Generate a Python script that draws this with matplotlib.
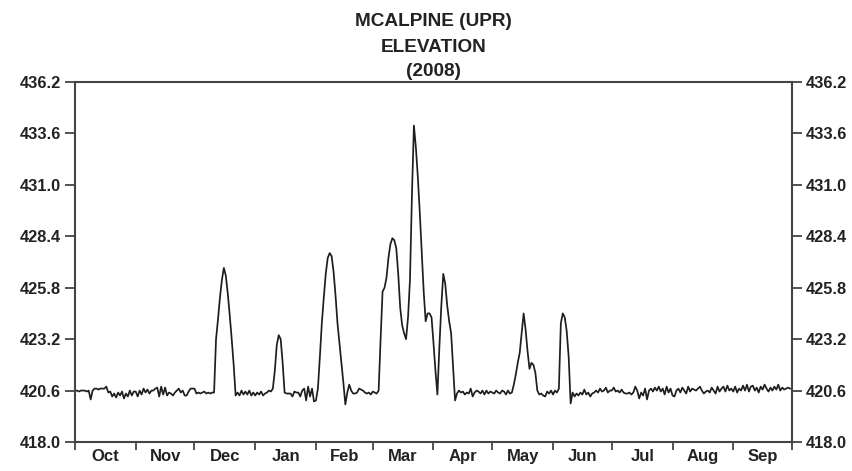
import numpy as np
import matplotlib
matplotlib.use("Agg")
import matplotlib.pyplot as plt

plt.rcParams["font.family"] = ["Liberation Sans", "DejaVu Sans"]
plt.rcParams["font.weight"] = "bold"

# daily elevation, water year Oct 2007 - Sep 2008
months = ["Oct", "Nov", "Dec", "Jan", "Feb", "Mar", "Apr", "May", "Jun", "Jul", "Aug", "Sep"]

oct_ = [420.6, 420.6, 420.55, 420.6, 420.6, 420.6, 420.55, 420.6, 420.15, 420.6, 420.7, 420.7,
        420.65, 420.7, 420.7, 420.7, 420.8, 420.5, 420.55, 420.3, 420.45, 420.25, 420.5, 420.35,
        420.55, 420.2, 420.45, 420.3, 420.6, 420.35, 420.55]
nov = [420.55, 420.3, 420.6, 420.4, 420.7, 420.5, 420.65, 420.45, 420.6, 420.6, 420.7, 420.75,
       420.3, 420.8, 420.4, 420.75, 420.35, 420.5, 420.45, 420.35, 420.5, 420.6, 420.7, 420.5,
       420.6, 420.35, 420.35, 420.55, 420.7, 420.7]
dec = [420.7, 420.45, 420.5, 420.45, 420.5, 420.55, 420.45, 420.5, 420.45, 420.5,
       420.5, 423.2, 424.2, 425.3, 426.2, 426.8, 426.4, 425.5, 424.4, 423.2, 421.9, 420.35,
       420.5, 420.35, 420.6, 420.4, 420.55, 420.4, 420.6, 420.35, 420.5]
jan = [420.35, 420.5, 420.4, 420.55, 420.35, 420.45, 420.5, 420.6, 420.55,
       420.7, 421.6, 422.9, 423.4, 423.2, 422.0, 420.5,
       420.45, 420.45, 420.45, 420.3, 420.55, 420.5, 420.5, 420.3, 420.6, 420.7, 420.1,
       420.8, 420.3, 420.7, 420.05]
feb = [420.1, 420.7, 422.3, 424.0, 425.3, 426.5, 427.3, 427.55, 427.4, 426.6, 425.4, 424.0,
       423.0, 422.0, 421.0, 419.9, 420.5, 420.9, 420.6, 420.45, 420.45, 420.5, 420.7, 420.65,
       420.6, 420.5, 420.45, 420.5, 420.4]
mar = [420.55, 420.5, 420.45, 420.6, 423.2, 425.6, 425.8, 426.3, 427.3, 428.0, 428.3, 428.2,
       427.8, 426.5, 424.8, 423.9, 423.5, 423.2, 424.3, 426.2, 430.5, 434.0, 432.9, 431.4,
       429.6, 427.6, 425.6, 424.1, 424.5, 424.5, 424.3]
apr = [423.0, 421.6, 420.4, 422.8, 424.9, 426.5, 426.0, 424.9, 424.1, 423.5, 421.8, 420.1,
       420.45, 420.6, 420.5, 420.55, 420.4, 420.5, 420.45, 420.7, 420.3, 420.5, 420.6, 420.55,
       420.45, 420.6, 420.4, 420.6, 420.45, 420.55]
may = [420.5, 420.45, 420.6, 420.5, 420.45, 420.6, 420.55, 420.4, 420.6, 420.45, 420.5,
       420.9, 421.4, 422.0, 422.5, 423.5, 424.5, 423.7, 422.6, 421.7, 422.0, 421.9, 421.5,
       420.6, 420.4, 420.45, 420.35, 420.3, 420.55, 420.45, 420.6]
jun = [420.4, 420.6, 420.5, 420.7, 424.0, 424.5, 424.3, 423.6, 422.3, 419.95, 420.5, 420.3,
       420.45, 420.35, 420.5, 420.4, 420.65, 420.4, 420.5, 420.3, 420.45, 420.5, 420.6, 420.5,
       420.7, 420.55, 420.6, 420.75, 420.5, 420.6]
jul = [420.6, 420.75, 420.55, 420.6, 420.5, 420.65, 420.5, 420.45, 420.45, 420.5, 420.4, 420.5,
       420.8, 420.6, 420.2, 420.5, 420.35, 420.7, 420.15, 420.6, 420.7, 420.55, 420.75, 420.6,
       420.8, 420.55, 420.7, 420.4, 420.8, 420.5, 420.7]
aug = [420.35, 420.3, 420.6, 420.7, 420.5, 420.75, 420.6, 420.45, 420.8, 420.55, 420.7, 420.65,
       420.6, 420.7, 420.8, 420.6, 420.45, 420.55, 420.6, 420.5, 420.75, 420.6, 420.45, 420.8,
       420.55, 420.7, 420.8, 420.55, 420.85, 420.6, 420.7]
sep = [420.55, 420.8, 420.5, 420.7, 420.6, 420.85, 420.6, 420.9, 420.55, 420.8, 420.85, 420.6,
       420.75, 420.5, 420.8, 420.65, 420.9, 420.7, 420.55, 420.75, 420.6, 420.8, 420.65, 420.9,
       420.6, 420.75, 420.65, 420.7, 420.75, 420.7]

month_data = [oct_, nov, dec, jan, feb, mar, apr, may, jun, jul, aug, sep]
month_len = [31, 30, 31, 31, 29, 31, 30, 31, 30, 31, 31, 30]
for m, d, n in zip(months, month_data, month_len):
    assert len(d) == n, (m, len(d))

elev = np.concatenate(month_data)
days = np.arange(len(elev))

yticks = [418.0, 420.6, 423.2, 425.8, 428.4, 431.0, 433.6, 436.2]

fig = plt.figure(figsize=(8.53, 4.71), dpi=100)
ax = fig.add_axes([0.0879, 0.0616, 0.8406, 0.7643])

ax.plot(days, elev, color="#1e1e1e", linewidth=1.25)

edges = np.concatenate([[0], np.cumsum(month_len)])
mids = (edges[:-1] + edges[1:]) / 2
ax.set_xlim(0, edges[-1])
ax.set_ylim(yticks[0], yticks[-1])

ax.set_xticks(edges)
ax.set_xticklabels([])
ax.set_xticks(mids, minor=True)
ax.set_xticklabels(months, minor=True, fontsize=12, fontweight="bold", color="#222222")
ax.tick_params(axis="x", which="major", direction="out", length=6, width=1.3, color="#444444")
ax.tick_params(axis="x", which="minor", length=0, pad=5)

ax.set_yticks(yticks)
ax.set_yticklabels([f"{v:.1f}" for v in yticks], fontsize=11.8, fontweight="bold", color="#222222")
ax.tick_params(axis="y", which="major", direction="out", length=7, width=1.3, color="#444444",
               left=True, right=True, labelleft=True, labelright=True, pad=3)

for s in ax.spines.values():
    s.set_linewidth(1.5)
    s.set_color("#444444")

title_font = dict(ha="center", va="center", fontsize=13.7, fontweight="bold", color="#222222")
cx = 0.0879 + 0.8406 / 2
fig.text(cx, 1 - 22 / 471, "MCALPINE (UPR)", **title_font)
fig.text(cx, 1 - 47 / 471, "ELEVATION", **title_font)
fig.text(cx, 1 - 71 / 471, "(2008)", **title_font)

fig.savefig("out.png", dpi=100)
